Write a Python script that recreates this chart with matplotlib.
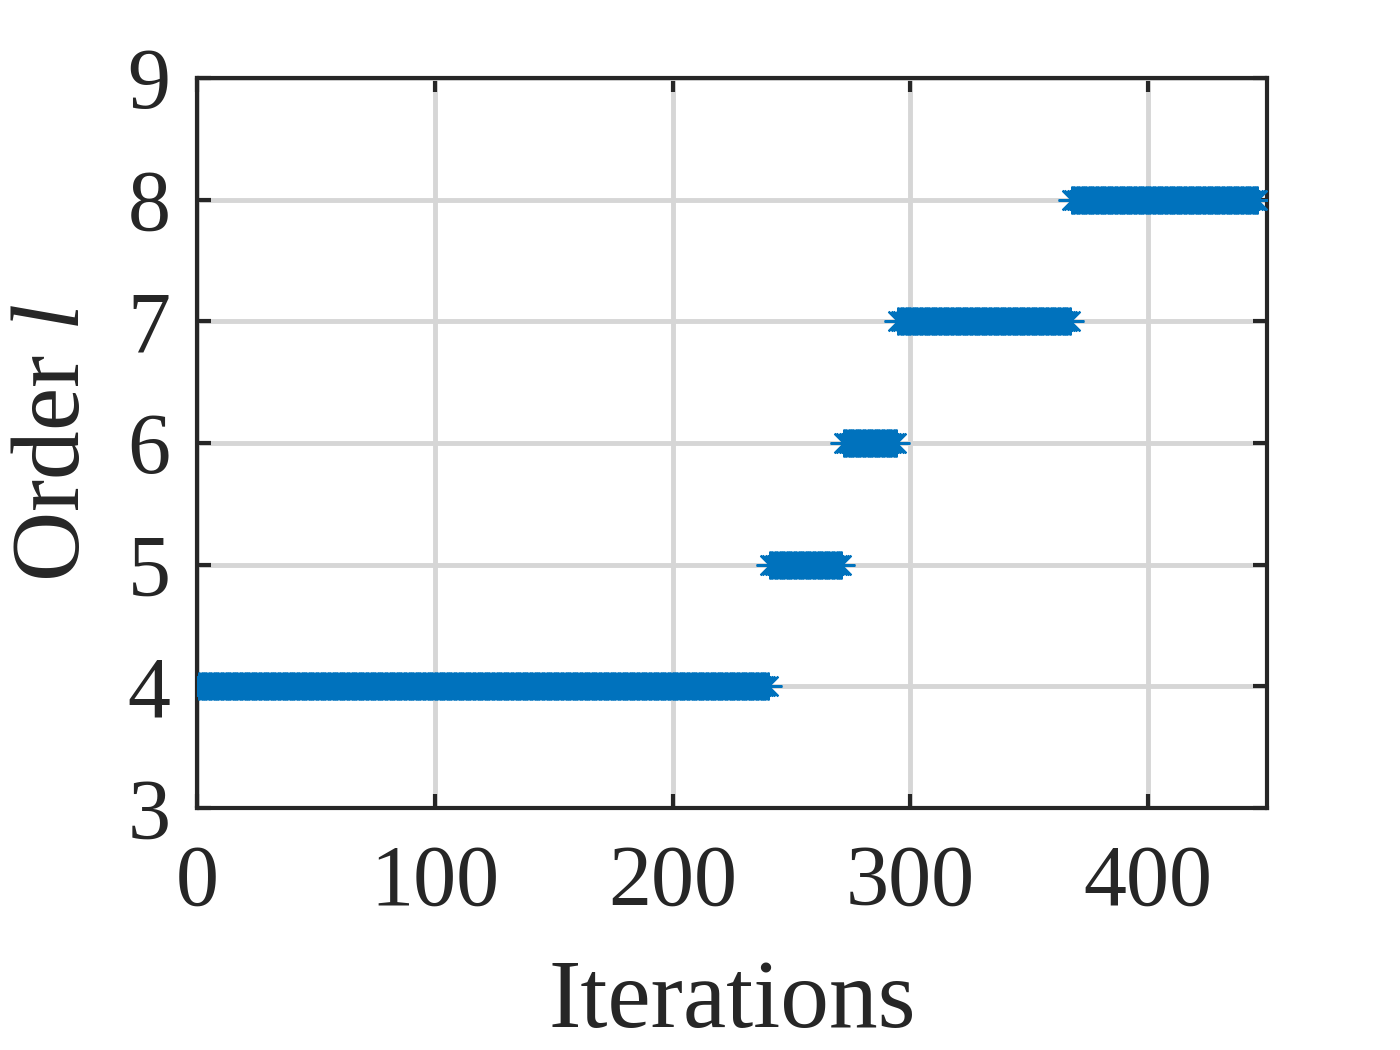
import numpy as np
import matplotlib
matplotlib.use("Agg")
import matplotlib.pyplot as plt

# Run-length data: order value held over iteration ranges (inclusive)
orders = [4, 5, 6, 7, 8]
seg_start = [1, 241, 272, 295, 368]
seg_end = [240, 271, 294, 367, 446]

xticks = [0, 100, 200, 300, 400]
yticks = [3, 4, 5, 6, 7, 8, 9]

iters = np.concatenate([np.arange(s, e + 1) for s, e in zip(seg_start, seg_end)])
vals = np.concatenate([np.full(e - s + 1, o) for s, e, o in zip(seg_start, seg_end, orders)])

plt.rcParams['font.family'] = ['Liberation Serif', 'DejaVu Serif']
plt.rcParams['mathtext.fontset'] = 'custom'
plt.rcParams['mathtext.it'] = 'Liberation Serif:italic'
plt.rcParams['mathtext.rm'] = 'Liberation Serif'

fig = plt.figure(figsize=(14, 10.5), dpi=100)
ax = fig.add_axes([0.1407, 0.2305, 0.7643, 0.6952])

ax.plot(iters, vals, linestyle='none', marker=(8, 2, 0), markersize=20,
        color='#0072BD', markeredgecolor='#0072BD', markeredgewidth=1.6, zorder=3)

ax.set_xlim(0, 450)
ax.set_ylim(3, 9)
ax.set_xticks(xticks)
ax.set_yticks(yticks)
ax.grid(True, color='#d6d6d6', linewidth=3.5)
ax.set_axisbelow(True)
for sp in ax.spines.values():
    sp.set_linewidth(3)
    sp.set_color('#262626')
ax.tick_params(direction='in', length=10, width=3, colors='#262626',
               labelsize=62, top=True, right=True)
ax.tick_params(axis='x', pad=26)
ax.tick_params(axis='y', pad=19)
ax.set_xlabel('Iterations', fontsize=70, color='#262626', labelpad=26)
ax.set_ylabel('Order $\\mathit{l}$', fontsize=70, color='#262626', labelpad=20)

fig.savefig('out.png', dpi=100)
